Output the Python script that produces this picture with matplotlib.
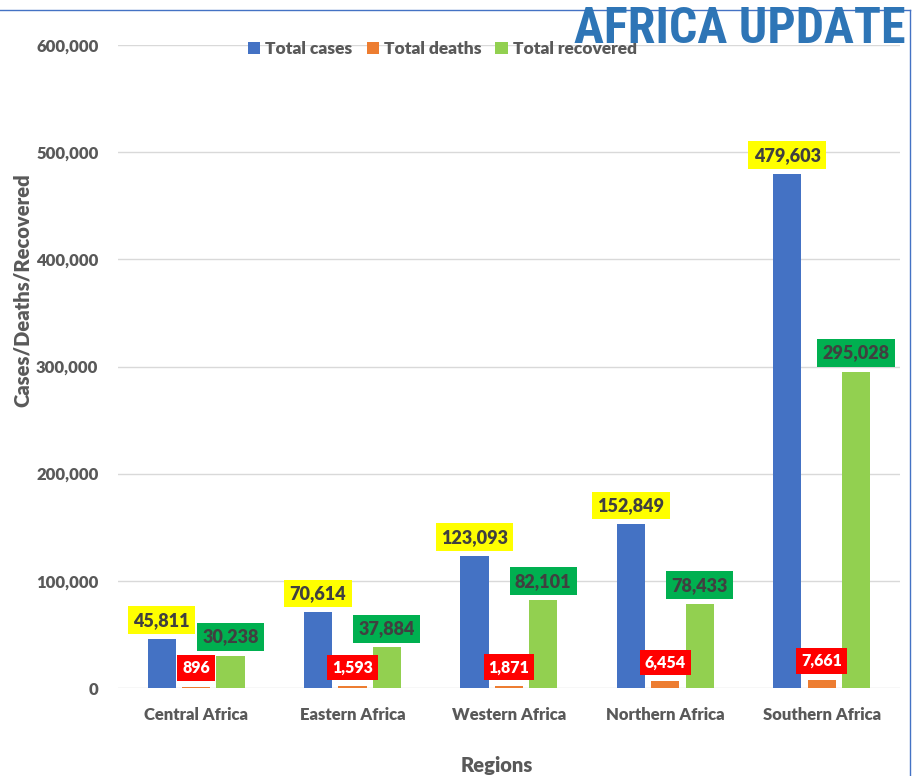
import matplotlib.pyplot as plt
from matplotlib.lines import Line2D
from matplotlib import font_manager
import numpy as np

regions = ['Central Africa', 'Eastern Africa', 'Western Africa', 'Northern Africa', 'Southern Africa']
total_cases = [45811, 70614, 123093, 152849, 479603]
total_deaths = [896, 1593, 1871, 6454, 7661]
total_recovered = [30238, 37884, 82101, 78433, 295028]
yticks = [0, 100000, 200000, 300000, 400000, 500000, 600000]


def main():
    plt.rcParams['font.family'] = ['Lato', 'DejaVu Sans']
    names = set(f.name for f in font_manager.fontManager.ttflist)
    narrow = [n for n in ['Liberation Sans Narrow', 'Roboto Condensed', 'DejaVu Sans Condensed',
                          'Open Sans Condensed'] if n in names]
    fig = plt.figure(figsize=(9.21, 7.76), dpi=100)
    ax = fig.add_axes([0.128, 0.1134, 0.849, 0.8286])

    x = np.arange(len(regions))
    w = 0.18
    off = 0.22
    series = [
        (total_cases, -off, '#4472C4', 'Total cases', '#FFFF00', '#404040'),
        (total_deaths, 0, '#ED7D31', 'Total deaths', '#FF0000', 'white'),
        (total_recovered, off, '#92D050', 'Total recovered', '#00B050', '#404040'),
    ]
    for vals, dx, col, name, boxc, txtc in series:
        bars = ax.bar(x + dx, vals, w, color=col, label=name, zorder=3)
        fs = 11.5 if name == 'Total deaths' else 13
        for b, v in zip(bars, vals):
            ax.annotate(f'{v:,}', (b.get_x() + b.get_width() / 2, v),
                        xytext=(0, 13.5), textcoords='offset points',
                        ha='center', va='center', fontsize=fs, fontweight='heavy',
                        color=txtc, zorder=5,
                        bbox=dict(boxstyle='square,pad=0.3', fc=boxc, ec='none'))

    ax.set_xlim(-0.5, len(regions) - 0.5)
    ax.set_ylim(0, 600000)
    ax.set_yticks(yticks)
    ax.set_yticklabels([f'{t:,}' for t in yticks])
    ax.set_xticks(x)
    ax.set_xticklabels(regions)
    ax.tick_params(length=0, labelsize=12, colors='#595959')
    ax.tick_params(axis='x', pad=14)
    ax.tick_params(axis='y', pad=14)
    for lab in ax.get_xticklabels() + ax.get_yticklabels():
        lab.set_fontweight('heavy')
    ax.grid(axis='y', color='#d9d9d9', lw=1, zorder=0)
    for s in ax.spines.values():
        s.set_visible(False)

    fig.text(0.024, 0.626, 'Cases/Deaths/Recovered', rotation=90, ha='center', va='center',
             fontsize=14.5, fontweight='heavy', color='#595959')
    fig.text(0.539, 0.013, 'Regions', ha='center', va='center',
             fontsize=14.5, fontweight='heavy', color='#595959')

    leg = ax.legend(loc='upper center', bbox_to_anchor=(0.415, 1.03), ncol=3, frameon=False,
                    fontsize=12.5, handlelength=0.7, handleheight=0.7, columnspacing=0.8,
                    handletextpad=0.3)
    for t in leg.get_texts():
        t.set_fontweight('heavy')
        t.set_color('#595959')

    fig.text(0.983, 0.962, 'AFRICA UPDATE', ha='right', va='center', fontsize=36,
             fontweight='bold', color='#2E75B6', family=narrow + ['DejaVu Sans'])

    fig.add_artist(Line2D([0, 0.988], [0.987, 0.987], color='#4472C4', lw=1, transform=fig.transFigure))
    fig.add_artist(Line2D([0.988, 0.988], [0, 0.987], color='#4472C4', lw=1, transform=fig.transFigure))

    fig.savefig('out.png', dpi=100)


if __name__ == '__main__':
    main()
